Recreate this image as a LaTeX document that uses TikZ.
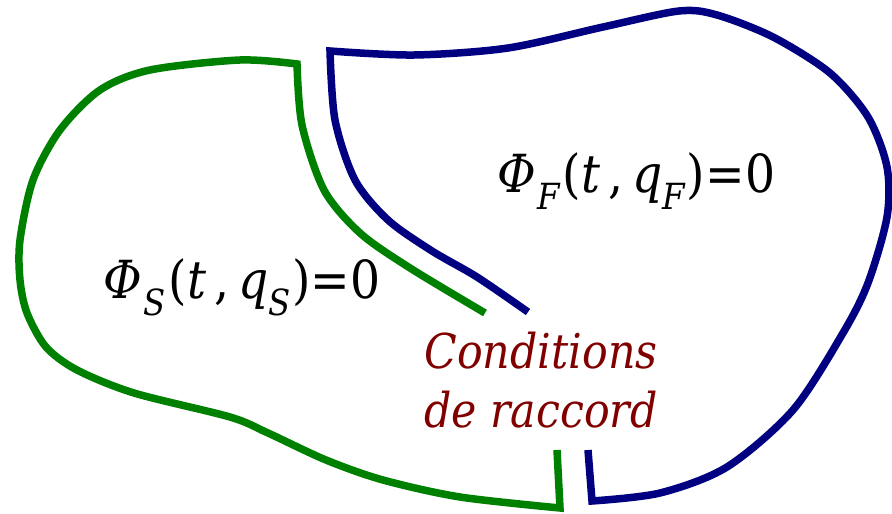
\documentclass[tikz,border=0pt]{standalone}
\usepackage{fontspec}
\usepackage{graphicx}
\setmainfont{DejaVu Serif}
\definecolor{solidgreen}{RGB}{0,128,0}
\definecolor{fluidblue}{RGB}{0,0,128}
\definecolor{raccred}{RGB}{128,0,0}
\newcommand\subsc[1]{\raisebox{-0.34em}{\fontsize{36}{36}\selectfont\itshape #1}}
\newcommand\phieq[1]{\scalebox{0.9}[1]{\itshape Φ\kern2pt\subsc{#1}\kern3pt\upshape(\itshape t\kern9pt\upshape,\kern10pt\itshape q\subsc{#1}\kern2pt\upshape)=0}}
\begin{document}
\begin{tikzpicture}[x=1pt,y=-1pt,
  boundary/.style={line width=7.5pt,line join=miter},
  eqlabel/.style={inner sep=0pt,anchor=base west,font=\fontsize{52.5}{60}\selectfont},
  condlabel/.style={inner sep=0pt,anchor=base,text=raccred,font=\fontsize{48}{58}\selectfont\itshape}]
\useasboundingbox (0,0) rectangle (892,514);
\fill[white] (0,0) rectangle (892,514);
% solid (green)
\draw[boundary,solidgreen] (557,450) -- (560,508)
  -- plot[smooth] coordinates {(560,508) (460,497) (383,480) (326,460) (268,433) (230,417) (134,393) (77,370) (46,347) (27,313) (20,280) (20,240) (33,180) (60,130) (100,90) (150,70) (240,60) (297,64)}
  -- plot[smooth] coordinates {(297,64) (302,125) (324,190) (360,233) (410,268) (485,313)};
% fluid (blue)
\draw[boundary,fluidblue] (588,450) -- (592,501)
  -- plot[smooth] coordinates {(592,501) (660,493) (727,467) (793,410) (843,333) (868,283) (887,217) (887,167) (868,117) (830,73) (773,37) (717,15) (679,11) (603,27) (508,48) (414,55) (330,51)}
  -- plot[smooth] coordinates {(330,51) (335,120) (355,180) (388,220) (432,251) (477,277) (528,312)};
\node[eqlabel] (eqS) at (103,298) {\phieq{S}};
\node[eqlabel] (eqF) at (497,192) {\phieq{F}};
\node[condlabel] (cond1) at (541,368) {\scalebox{0.89}[1]{Conditions}};
\node[condlabel] (cond2) at (541,427) {\scalebox{0.89}[1]{de raccord}};
\end{tikzpicture}
\end{document}
